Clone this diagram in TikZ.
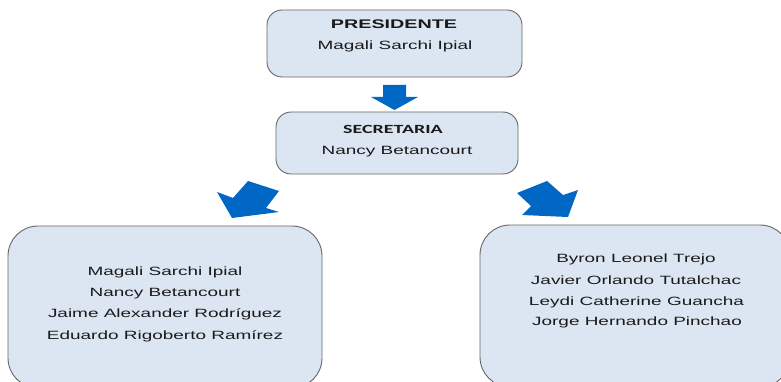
\documentclass[tikz,border=0pt]{standalone}
\usepackage{fontspec}
\setmainfont{Liberation Sans}[FakeStretch=1.58]
\newfontfamily\calib{Carlito}[FakeStretch=1.6]
\definecolor{boxfill}{HTML}{DCE6F2}
\definecolor{boxline}{HTML}{666666}
\definecolor{arrowblue}{HTML}{0068C4}
\definecolor{txtcol}{HTML}{1A1A1A}
\begin{document}
\begin{tikzpicture}[x=1pt,y=-1pt,
  box/.style={draw=boxline, fill=boxfill, line width=0.9pt, inner sep=0pt, outer sep=0pt},
  txt/.style={anchor=base, inner sep=0pt, text=txtcol, font=\fontsize{12}{14}\selectfont},
  barrow/.style={fill=arrowblue, draw=none}]
\useasboundingbox (0,0) rectangle (781,382);
\clip (0,0) rectangle (781,382);
% boxes
\node[box, rounded corners=15pt, minimum width=255pt, minimum height=67pt] (pres) at (394.5,43.5) {};
\node[box, rounded corners=15pt, minimum width=242pt, minimum height=62pt] (sec) at (397,143) {};
\node[box, rounded corners=30pt, minimum width=314pt, minimum height=162pt] (left) at (165,307) {};
\node[box, rounded corners=30pt, minimum width=310pt, minimum height=162pt] (right) at (635,306) {};
% texts
\node[txt, font=\fontsize{12.5}{14}\selectfont\bfseries] (t1) at (394,28.3) {PRESIDENTE};
\node[txt] (t2) at (395,50) {Magali Sarchi Ipial};
\node[txt, font=\fontsize{12.5}{14}\selectfont\calib\bfseries] (t3) at (393,134) {SECRETARIA};
\node[txt] (t4) at (397,155) {Nancy Betancourt};
\node[txt] (l1) at (165,275) {Magali Sarchi Ipial};
\node[txt] (l2) at (165,296.7) {Nancy Betancourt};
\node[txt] (l3) at (165,317.7) {Jaime Alexander Rodríguez};
\node[txt] (l4) at (165,339) {Eduardo Rigoberto Ramírez};
\node[txt] (r1) at (636,262.7) {Byron Leonel Trejo};
\node[txt] (r2) at (636,284) {Javier Orlando Tutalchac};
\node[txt] (r3) at (636.5,305) {Leydi Catherine Guancha};
\node[txt] (r4) at (637,325.7) {Jorge Hernando Pinchao};
% block arrows
\fill[barrow] (383,85) -- (406,85) -- (406,97) -- (418,97) -- (394.5,110) -- (371,97) -- (383,97) -- cycle;
\fill[barrow] (217,192) -- (233,198) -- (248,181) -- (279,191) -- (266,208) -- (279,212) -- (232,218) -- cycle;
\fill[barrow] (517,193) -- (547,181) -- (563,195) -- (578,190) -- (568,217) -- (522,215) -- (531,206) -- cycle;
\end{tikzpicture}
\end{document}
